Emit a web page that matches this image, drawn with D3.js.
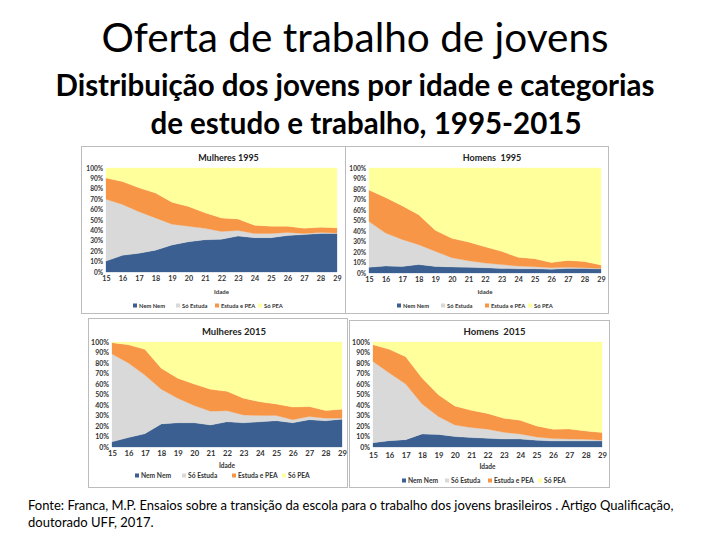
<!DOCTYPE html>
<html><head><meta charset="utf-8">
<script src="https://cdn.jsdelivr.net/npm/d3@7/dist/d3.min.js"></script>
<style>body{margin:0;background:#fff}svg{display:block}</style>
</head><body><svg id="c" width="720" height="540"></svg>
<script>
const ages = [15,16,17,18,19,20,21,22,23,24,25,26,27,28,29];
const categories = ["Nem Nem","Só Estuda","Estuda e PEA","Só PEA"];
const yTicks = [0,10,20,30,40,50,60,70,80,90,100];

const m1995NemNem   = [10.5,16,18,21,26,29,31,31.5,34.5,33,33,35,36,37,37];
const m1995SoEstuda = [59.5,49,40,31,20,15,11,7.5,5.5,4,4,3,1,1,0.5];
const m1995EstPEA   = [20.5,22,23,24,21,19,15,13,11,8,7,6,5,5,5];
const m1995SoPEA    = [9.5,13,19,24,33,37,43,48,49,55,56,56,58,57,57.5];

const h1995NemNem   = [5.4,6.7,6.3,8,6.3,5.7,5.4,5,4.4,4,4,3.5,4.4,4.4,3.8];
const h1995SoEstuda = [43.6,31.3,25.7,19,14.3,8.9,6.3,4.5,3.6,2.7,2,1.5,1,0.6,0.6];
const h1995EstPEA   = [30,34,32,28.5,20,18.4,17.8,15.5,12.6,8.3,7.6,5,6.6,6,3.2];
const h1995SoPEA    = [21,28,36,44.5,59.4,67,70.5,75,79.4,85,86.4,90,88,89,92.4];

const m2015NemNem   = [5,9,12.7,22,23,23,21,24,23,24,25,23,26,25,26.5];
const m2015SoEstuda = [83.5,71,55.8,33,23.5,16.5,13,10.5,7.5,6,5,3,3,2.5,1];
const m2015EstPEA   = [10.9,17.5,24.5,20,19,20.5,21,18.5,16,13,11,12,9.5,7.2,8.5];
const m2015SoPEA    = [0.6,2.5,7,25,34.5,40,45,47,53.5,57,59,62,61.5,65.3,64];

const h2015NemNem   = [4,6,7,12.4,12,10,9,8.3,7.6,7.6,6.4,5.7,5.7,5.7,5.7];
const h2015SoEstuda = [77.5,64.4,53,28.6,17,11,9.5,8.7,6.4,4.8,3.1,2.3,1.9,1.6,0.7];
const h2015EstPEA   = [16,22.6,26,24.6,20.7,18,16.5,15,13.4,13.1,10.5,9,9.6,8,7.3];
const h2015SoPEA    = [2.5,7,14,34.4,50.3,61,65,68,72.6,74.5,80,83,82.8,84.7,86.3];

const colors = ["#3b5f90","#d9d9d9","#f79646","#ffff9c"];
const FONT = "Lato, 'Open Sans', sans-serif";

const svg = d3.select("#c");

svg.append("text").attr("x",355).attr("y",52).attr("text-anchor","middle")
  .attr("font-family",FONT).attr("font-size",40.5).attr("fill","#000")
  .text("Oferta de trabalho de jovens");
svg.append("text").attr("x",355).attr("y",96).attr("text-anchor","middle")
  .attr("font-family",FONT).attr("font-weight","bold").attr("font-size",29.5).attr("fill","#000")
  .text("Distribuição dos jovens por idade e categorias");
svg.append("text").attr("x",366).attr("y",134).attr("text-anchor","middle")
  .attr("font-family",FONT).attr("font-weight","bold").attr("font-size",29.5).attr("fill","#000")
  .text("de estudo e trabalho, 1995-2015");

const charts = [
  {title:"Mulheres 1995", series:[m1995NemNem,m1995SoEstuda,m1995EstPEA,m1995SoPEA],
   box:[81,146,345,313], plot:[106,168,337,272], tickY:282, idadeY:292, legY:306, legX:[27,70,109,152], fs:6.5, ls:5.8, ts:9},
  {title:"Homens  1995", series:[h1995NemNem,h1995SoEstuda,h1995EstPEA,h1995SoPEA],
   box:[345,146,608,313], plot:[369,168,601,273], tickY:283, idadeY:292, legY:306, legX:[28,72,116,159], fs:6.5, ls:5.8, ts:9},
  {title:"Mulheres 2015", series:[m2015NemNem,m2015SoEstuda,m2015EstPEA,m2015SoPEA],
   box:[88,318,347,487], plot:[112,342,342,447], tickY:457, idadeY:466, legY:476, legX:[23,70,120,170], fs:7, ls:6.7, ts:9.5},
  {title:"Homens  2015", series:[h2015NemNem,h2015SoEstuda,h2015EstPEA,h2015SoPEA],
   box:[349,320,609,487], plot:[373,342,602,447], tickY:459, idadeY:467, legY:481, legX:[29,72,115,165], fs:7, ls:6.7, ts:9.5}
];

charts.forEach(c => {
  const g = svg.append("g");
  g.append("rect").attr("x",c.box[0]+0.5).attr("y",c.box[1]+0.5)
    .attr("width",c.box[2]-c.box[0]).attr("height",c.box[3]-c.box[1])
    .attr("fill","#fff").attr("stroke","#bcbcbc").attr("stroke-width",1);

  const x = d3.scaleLinear().domain([ages[0], ages[ages.length-1]]).range([c.plot[0], c.plot[2]]);
  const y = d3.scaleLinear().domain([0,100]).range([c.plot[3], c.plot[1]]);

  const rows = ages.map((a,i) => {
    const r = {age:a};
    categories.forEach((k,j) => r[k] = c.series[j][i]);
    return r;
  });
  const stacked = d3.stack().keys(categories)(rows);
  const area = d3.area().x(d => x(d.data.age)).y0(d => y(d[0])).y1(d => y(d[1]));
  g.selectAll("path.a").data(stacked).join("path")
    .attr("d", area).attr("fill",(d,i) => colors[i]).attr("stroke",(d,i)=>colors[i]).attr("stroke-width",0.3);

  const yAxis = d3.axisLeft(y).tickValues(yTicks).tickFormat(d => d + "%").tickSize(0).tickPadding(3);
  const ya = g.append("g").attr("transform",`translate(${c.plot[0]},0)`).call(yAxis);
  ya.select(".domain").remove();
  ya.selectAll("text").attr("font-family",FONT).attr("font-weight","bold").attr("font-size",c.fs).attr("fill","#333");

  const xAxis = d3.axisBottom(x).tickValues(ages).tickFormat(d3.format("d")).tickSize(0).tickPadding(0);
  const xa = g.append("g").attr("transform",`translate(0,${c.tickY-6})`).call(xAxis);
  xa.select(".domain").remove();
  xa.selectAll("text").attr("font-family",FONT).attr("font-weight","bold").attr("font-size",c.fs+0.7).attr("fill","#333");

  g.append("text").attr("x",(c.plot[0]+c.plot[2])/2).attr("y",c.idadeY+2).attr("text-anchor","middle")
    .attr("font-family",FONT).attr("font-weight","bold").attr("font-size",c.fs-0.5).attr("fill","#333").text("Idade");

  g.append("text").attr("x",(c.plot[0]+c.plot[2])/2+7).attr("y",c.plot[1]-7).attr("text-anchor","middle")
    .attr("font-family",FONT).attr("font-weight","bold").attr("font-size",c.ts).attr("fill","#222")
    .attr("xml:space","preserve").text(c.title);

  categories.forEach((k,j) => {
    const lx = c.plot[0] + c.legX[j];
    g.append("rect").attr("x",lx).attr("y",c.legY-2.5).attr("width",4).attr("height",4).attr("fill",colors[j]);
    g.append("text").attr("x",lx+6).attr("y",c.legY+2).attr("font-family",FONT).attr("font-weight","bold")
      .attr("font-size",c.ls).attr("fill","#333").text(k);
  });
});

svg.append("text").attr("x",28).attr("y",510).attr("font-family",FONT).attr("font-size",13).attr("fill","#000")
  .text("Fonte: Franca, M.P. Ensaios sobre a transição da escola para o trabalho dos jovens brasileiros . Artigo Qualificação,");
svg.append("text").attr("x",28).attr("y",527).attr("font-family",FONT).attr("font-size",13).attr("fill","#000")
  .text("doutorado UFF, 2017.");
</script></body></html>
